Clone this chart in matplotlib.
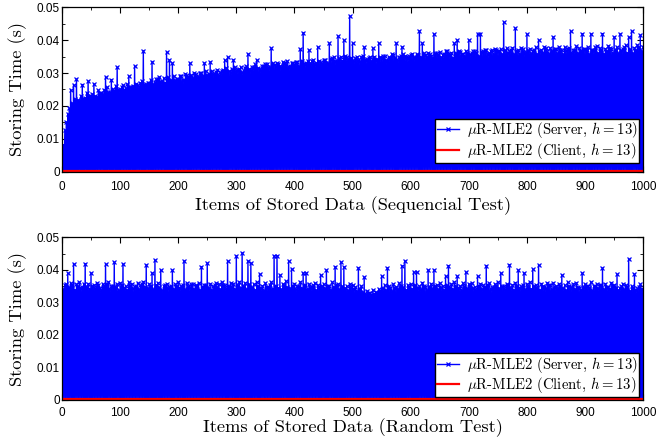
import numpy as np
import matplotlib
matplotlib.use('Agg')
import matplotlib.pyplot as plt
from matplotlib.ticker import MultipleLocator

plt.rcParams['mathtext.fontset'] = 'cm'
plt.rcParams['axes.formatter.use_mathtext'] = False

# server storing time (s): upper value read every 5 items (0..1000)
server_seq = [
    0.0045, 0.0125, 0.0175, 0.0247, 0.0265, 0.0281, 0.0215, 0.0265, 0.0225, 0.0275,
    0.0230, 0.0267, 0.0228, 0.0240, 0.0236, 0.0288, 0.0241, 0.0280, 0.0245, 0.0317,
    0.0250, 0.0262, 0.0254, 0.0290, 0.0258, 0.0320, 0.0263, 0.0270, 0.0368, 0.0266,
    0.0270, 0.0335, 0.0272, 0.0281, 0.0274, 0.0286, 0.0364, 0.0340, 0.0330, 0.0279,
    0.0282, 0.0290, 0.0278, 0.0293, 0.0330, 0.0285, 0.0296, 0.0288, 0.0301, 0.0330,
    0.0295, 0.0334, 0.0298, 0.0304, 0.0293, 0.0306, 0.0340, 0.0349, 0.0302, 0.0340,
    0.0308, 0.0312, 0.0303, 0.0316, 0.0358, 0.0310, 0.0318, 0.0340, 0.0313, 0.0322,
    0.0326, 0.0318, 0.0375, 0.0324, 0.0330, 0.0321, 0.0333, 0.0327, 0.0319, 0.0331,
    0.0325, 0.0334, 0.0372, 0.0423, 0.0330, 0.0370, 0.0336, 0.0328, 0.0380, 0.0335,
    0.0340, 0.0332, 0.0390, 0.0345, 0.0338, 0.0412, 0.0350, 0.0400, 0.0348, 0.0474,
    0.0390, 0.0345, 0.0339, 0.0350, 0.0378, 0.0342, 0.0348, 0.0375, 0.0340, 0.0390,
    0.0345, 0.0352, 0.0338, 0.0347, 0.0355, 0.0390, 0.0349, 0.0380, 0.0352, 0.0346,
    0.0356, 0.0350, 0.0358, 0.0428, 0.0390, 0.0355, 0.0361, 0.0352, 0.0418, 0.0360,
    0.0364, 0.0355, 0.0366, 0.0358, 0.0362, 0.0390, 0.0400, 0.0365, 0.0357, 0.0368,
    0.0400, 0.0362, 0.0368, 0.0420, 0.0420, 0.0366, 0.0371, 0.0360, 0.0369, 0.0374,
    0.0366, 0.0372, 0.0455, 0.0375, 0.0368, 0.0377, 0.0436, 0.0370, 0.0376, 0.0365,
    0.0418, 0.0374, 0.0368, 0.0378, 0.0400, 0.0371, 0.0379, 0.0367, 0.0376, 0.0410,
    0.0372, 0.0380, 0.0369, 0.0378, 0.0374, 0.0427, 0.0371, 0.0381, 0.0375, 0.0420,
    0.0373, 0.0379, 0.0420, 0.0370, 0.0382, 0.0376, 0.0420, 0.0374, 0.0383, 0.0372,
    0.0410, 0.0378, 0.0420, 0.0373, 0.0384, 0.0410, 0.0428, 0.0377, 0.0385, 0.0415,
    0.0380,
]
# values in between (items 2.5, 7.5, ...), near the top of the dense band
server_seq_mid = [
    0.0082, 0.0151, 0.0192, 0.0208, 0.0221, 0.0218, 0.0231, 0.0222, 0.0238, 0.0229,
    0.0236, 0.0229, 0.0247, 0.0238, 0.0249, 0.0256, 0.0241, 0.0252, 0.0259, 0.0248,
    0.0257, 0.0249, 0.0266, 0.0258, 0.0261, 0.0268, 0.0256, 0.0276, 0.0265, 0.0271,
    0.0278, 0.0266, 0.0281, 0.0288, 0.0276, 0.0271, 0.0287, 0.0279, 0.0290, 0.0283,
    0.0291, 0.0279, 0.0297, 0.0288, 0.0293, 0.0301, 0.0289, 0.0299, 0.0292, 0.0306,
    0.0298, 0.0307, 0.0296, 0.0310, 0.0302, 0.0309, 0.0316, 0.0305, 0.0311, 0.0318,
    0.0309, 0.0317, 0.0306, 0.0320, 0.0311, 0.0318, 0.0326, 0.0315, 0.0309, 0.0322,
    0.0328, 0.0317, 0.0331, 0.0320, 0.0327, 0.0318, 0.0329, 0.0336, 0.0321, 0.0330,
    0.0333, 0.0321, 0.0338, 0.0327, 0.0336, 0.0329, 0.0340, 0.0331, 0.0337, 0.0328,
    0.0339, 0.0330, 0.0342, 0.0349, 0.0336, 0.0345, 0.0338, 0.0351, 0.0341, 0.0347,
    0.0338, 0.0349, 0.0336, 0.0352, 0.0340, 0.0347, 0.0337, 0.0350, 0.0342, 0.0348,
    0.0351, 0.0340, 0.0349, 0.0358, 0.0346, 0.0339, 0.0351, 0.0357, 0.0348, 0.0352,
    0.0359, 0.0347, 0.0356, 0.0349, 0.0361, 0.0350, 0.0357, 0.0346, 0.0360, 0.0355,
    0.0348, 0.0359, 0.0366, 0.0356, 0.0347, 0.0361, 0.0368, 0.0357, 0.0350, 0.0362,
    0.0358, 0.0367, 0.0360, 0.0351, 0.0363, 0.0369, 0.0358, 0.0366, 0.0359, 0.0370,
    0.0366, 0.0358, 0.0369, 0.0360, 0.0371, 0.0357, 0.0367, 0.0359, 0.0372, 0.0361,
    0.0369, 0.0360, 0.0371, 0.0358, 0.0367, 0.0362, 0.0376, 0.0359, 0.0368, 0.0373,
    0.0361, 0.0370, 0.0358, 0.0369, 0.0377, 0.0362, 0.0371, 0.0360, 0.0368, 0.0372,
    0.0369, 0.0358, 0.0371, 0.0378, 0.0361, 0.0370, 0.0359, 0.0368, 0.0377, 0.0362,
    0.0371, 0.0360, 0.0369, 0.0379, 0.0362, 0.0372, 0.0360, 0.0370, 0.0378, 0.0366,
]

server_rnd = [
    0.0330, 0.0352, 0.0389, 0.0360, 0.0419, 0.0355, 0.0362, 0.0348, 0.0419, 0.0358,
    0.0390, 0.0352, 0.0361, 0.0345, 0.0358, 0.0417, 0.0363, 0.0350, 0.0423, 0.0356,
    0.0360, 0.0417, 0.0349, 0.0362, 0.0355, 0.0346, 0.0360, 0.0352, 0.0364, 0.0415,
    0.0357, 0.0390, 0.0430, 0.0361, 0.0398, 0.0350, 0.0358, 0.0347, 0.0398, 0.0355,
    0.0362, 0.0351, 0.0428, 0.0359, 0.0346, 0.0357, 0.0353, 0.0361, 0.0410, 0.0354,
    0.0420, 0.0358, 0.0349, 0.0360, 0.0355, 0.0363, 0.0352, 0.0428, 0.0361, 0.0357,
    0.0443, 0.0364, 0.0452, 0.0360, 0.0428, 0.0420, 0.0356, 0.0362, 0.0387, 0.0351,
    0.0359, 0.0347, 0.0362, 0.0444, 0.0444, 0.0384, 0.0357, 0.0365, 0.0426, 0.0404,
    0.0358, 0.0350, 0.0363, 0.0390, 0.0390, 0.0355, 0.0348, 0.0360, 0.0352, 0.0384,
    0.0357, 0.0399, 0.0351, 0.0362, 0.0410, 0.0355, 0.0423, 0.0410, 0.0349, 0.0358,
    0.0354, 0.0346, 0.0406, 0.0350, 0.0377, 0.0335, 0.0330, 0.0338, 0.0332, 0.0340,
    0.0380, 0.0352, 0.0406, 0.0344, 0.0356, 0.0348, 0.0359, 0.0413, 0.0428, 0.0353,
    0.0357, 0.0394, 0.0394, 0.0350, 0.0361, 0.0347, 0.0399, 0.0358, 0.0400, 0.0352,
    0.0360, 0.0349, 0.0380, 0.0413, 0.0356, 0.0362, 0.0380, 0.0351, 0.0359, 0.0392,
    0.0355, 0.0361, 0.0348, 0.0380, 0.0357, 0.0352, 0.0413, 0.0359, 0.0346, 0.0356,
    0.0362, 0.0390, 0.0350, 0.0358, 0.0416, 0.0354, 0.0361, 0.0398, 0.0349, 0.0390,
    0.0357, 0.0363, 0.0402, 0.0352, 0.0414, 0.0358, 0.0347, 0.0360, 0.0354, 0.0361,
    0.0350, 0.0358, 0.0384, 0.0353, 0.0362, 0.0348, 0.0357, 0.0360, 0.0345, 0.0389,
    0.0356, 0.0351, 0.0363, 0.0349, 0.0358, 0.0352, 0.0405, 0.0357, 0.0348, 0.0361,
    0.0353, 0.0386, 0.0344, 0.0358, 0.0352, 0.0434, 0.0349, 0.0386, 0.0343, 0.0355,
    0.0340,
]
server_rnd_mid = [
    0.0341, 0.0355, 0.0347, 0.0352, 0.0339, 0.0350, 0.0343, 0.0356, 0.0348, 0.0340,
    0.0351, 0.0344, 0.0354, 0.0338, 0.0349, 0.0356, 0.0342, 0.0351, 0.0347, 0.0337,
    0.0352, 0.0345, 0.0339, 0.0353, 0.0344, 0.0350, 0.0341, 0.0355, 0.0348, 0.0343,
    0.0351, 0.0340, 0.0354, 0.0346, 0.0338, 0.0352, 0.0343, 0.0349, 0.0341, 0.0350,
    0.0344, 0.0353, 0.0340, 0.0349, 0.0355, 0.0342, 0.0350, 0.0338, 0.0347, 0.0352,
    0.0345, 0.0339, 0.0352, 0.0346, 0.0341, 0.0354, 0.0343, 0.0350, 0.0348, 0.0340,
    0.0353, 0.0345, 0.0349, 0.0341, 0.0355, 0.0346, 0.0339, 0.0351, 0.0344, 0.0337,
    0.0348, 0.0353, 0.0342, 0.0350, 0.0345, 0.0340, 0.0352, 0.0347, 0.0343, 0.0351,
    0.0341, 0.0349, 0.0344, 0.0354, 0.0340, 0.0347, 0.0352, 0.0338, 0.0346, 0.0350,
    0.0343, 0.0351, 0.0339, 0.0348, 0.0353, 0.0341, 0.0349, 0.0344, 0.0337, 0.0346,
    0.0340, 0.0335, 0.0342, 0.0331, 0.0325, 0.0329, 0.0322, 0.0327, 0.0330, 0.0336,
    0.0344, 0.0338, 0.0349, 0.0335, 0.0343, 0.0340, 0.0351, 0.0346, 0.0339, 0.0348,
    0.0342, 0.0353, 0.0345, 0.0340, 0.0350, 0.0337, 0.0348, 0.0343, 0.0351, 0.0341,
    0.0347, 0.0339, 0.0352, 0.0346, 0.0341, 0.0350, 0.0344, 0.0338, 0.0349, 0.0343,
    0.0352, 0.0345, 0.0339, 0.0350, 0.0342, 0.0348, 0.0353, 0.0340, 0.0346, 0.0351,
    0.0343, 0.0349, 0.0341, 0.0354, 0.0345, 0.0339, 0.0350, 0.0344, 0.0352, 0.0340,
    0.0348, 0.0342, 0.0351, 0.0345, 0.0339, 0.0349, 0.0343, 0.0352, 0.0340, 0.0347,
    0.0342, 0.0350, 0.0344, 0.0338, 0.0351, 0.0345, 0.0341, 0.0348, 0.0339, 0.0346,
    0.0351, 0.0343, 0.0337, 0.0349, 0.0344, 0.0352, 0.0340, 0.0347, 0.0342, 0.0350,
    0.0344, 0.0338, 0.0349, 0.0341, 0.0347, 0.0336, 0.0345, 0.0339, 0.0348, 0.0342,
]

# between two readings the server time drops back to about zero
server_floor = 0.0
client_time = 0.0002

step = 2.5
xlabels = ['Items of Stored Data (Sequencial Test)',
           'Items of Stored Data (Random Test)']
legend_labels = [r'$\mu$R-MLE2 (Server, $h=13$)',
                 r'$\mu$R-MLE2 (Client, $h=13$)']

serif = {'family': 'cmr10', 'size': 13.3}
tickfont = 'Liberation Sans'

fig = plt.figure(figsize=(6.59, 4.41), dpi=100)
ax1 = fig.add_axes([0.094, 0.611, 0.882, 0.3724])
ax2 = fig.add_axes([0.094, 0.093, 0.882, 0.3689])

panels = [(ax1, server_seq, server_seq_mid, xlabels[0], 0.055, 6.5, 2.5),
          (ax2, server_rnd, server_rnd_mid, xlabels[1], 0.018, 5.0, -0.5)]

for ax, peaks, mids, xl, leg_y, xpad, lpad in panels:
    vals = np.empty(len(peaks) + len(mids))
    vals[0::2] = peaks
    vals[1::2] = mids
    items = np.arange(len(vals)) * step
    xs = np.empty(2 * len(vals) - 1)
    ys = np.empty(2 * len(vals) - 1)
    xs[0::2] = items
    ys[0::2] = vals
    xs[1::2] = items[:-1] + step / 2
    ys[1::2] = server_floor

    ax.plot(xs, ys, color='#0000ff', lw=1.0, marker='x', ms=3.4, mew=0.9,
            label=legend_labels[0])
    ax.plot(items, np.full(len(items), client_time), color='#ff0000', lw=1.6,
            label=legend_labels[1])

    ax.set_xlim(0, 1000)
    ax.set_ylim(0, 0.05)
    ax.xaxis.set_major_locator(MultipleLocator(100))
    ax.xaxis.set_minor_locator(MultipleLocator(50))
    ax.yaxis.set_minor_locator(MultipleLocator(0.005))
    ax.set_yticks([0, 0.01, 0.02, 0.03, 0.04, 0.05])
    ax.set_yticklabels(['0', '0.01', '0.02', '0.03', '0.04', '0.05'])
    ax.tick_params(which='both', direction='in', top=True, right=True,
                   labelsize=8.5)
    ax.tick_params(axis='x', pad=xpad)
    ax.tick_params(axis='y', pad=1.5)
    ax.tick_params(which='major', length=4, width=0.8)
    ax.tick_params(which='minor', length=2, width=0.6)
    for lab in ax.get_xticklabels() + ax.get_yticklabels():
        lab.set_family(tickfont)
    for s in ax.spines.values():
        s.set_linewidth(0.9)

    ax.set_xlabel(xl, fontdict=serif, labelpad=lpad)
    ax.set_ylabel('Storing Time (s)', fontdict=serif, labelpad=7)

    leg = ax.legend(loc='lower right', bbox_to_anchor=(0.993, leg_y),
                    prop={'family': 'cmr10', 'size': 10.6}, fancybox=False,
                    edgecolor='black', framealpha=1, borderpad=0.12,
                    handlelength=1.5, handletextpad=0.5, labelspacing=0.02,
                    borderaxespad=0)
    leg.get_frame().set_linewidth(1.0)

fig.savefig('out.png', dpi=100)
